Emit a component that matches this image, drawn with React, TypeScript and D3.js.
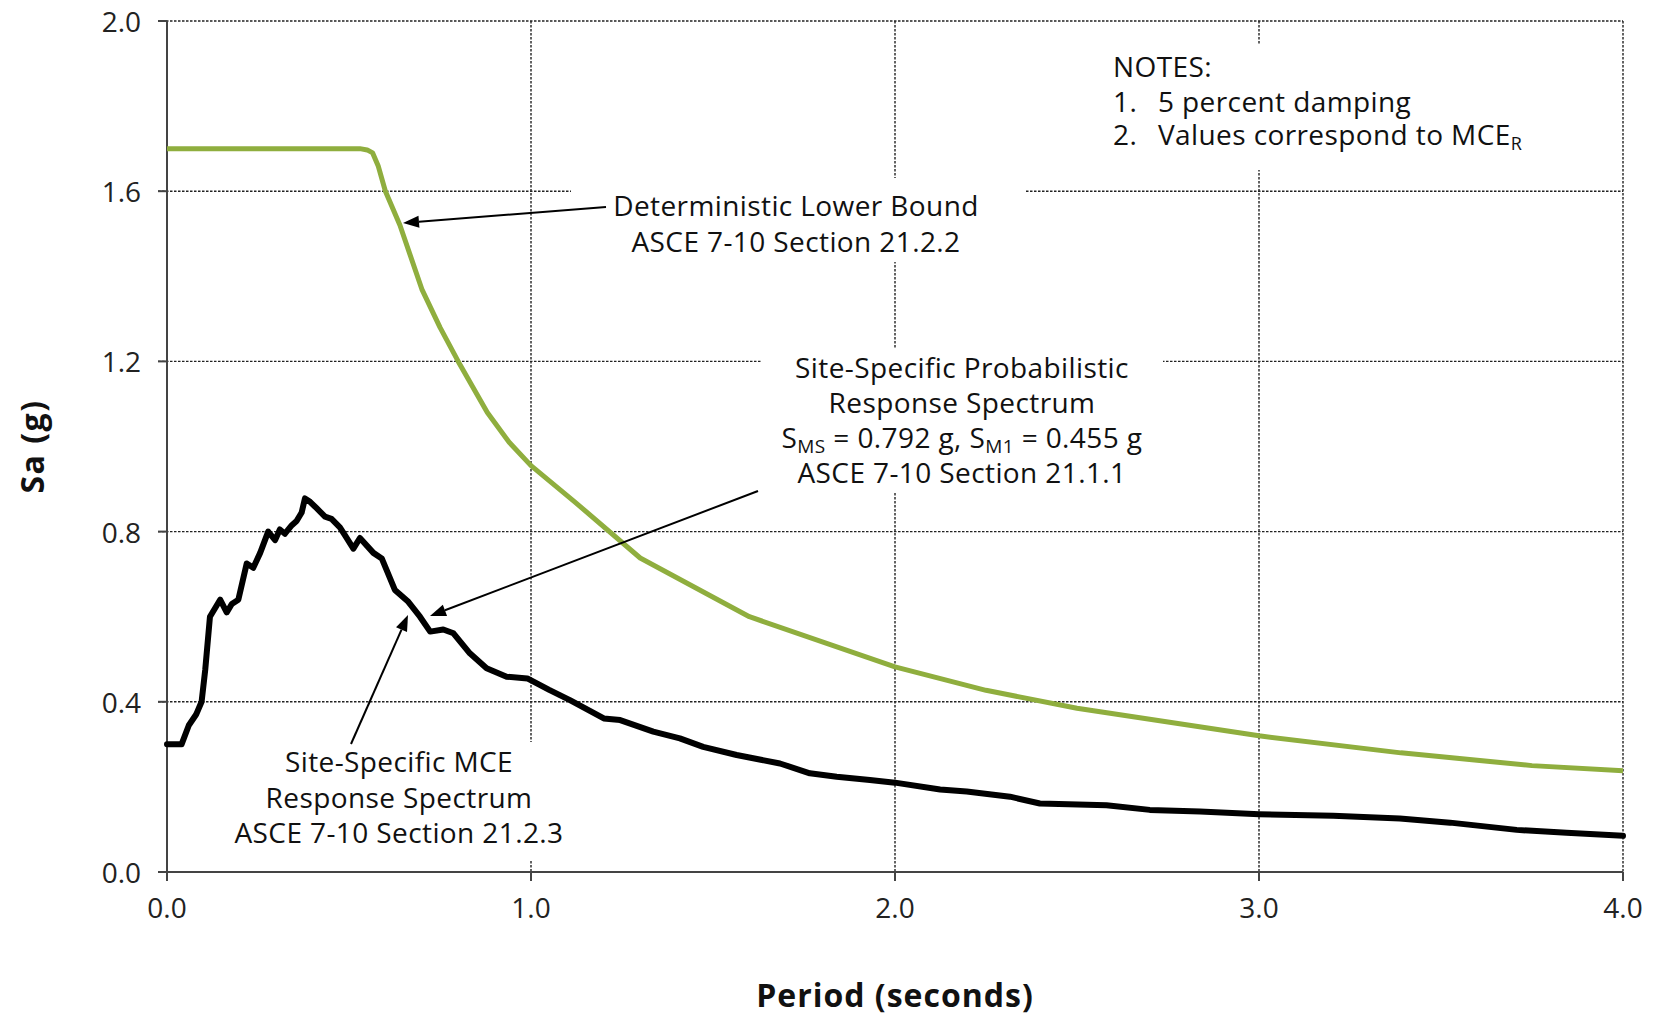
import * as d3 from 'd3';

// Deterministic lower bound (green)
const detPeriod = [0, 0.53, 0.55, 0.565, 0.58, 0.6, 0.64, 0.7, 0.75, 0.8, 0.88, 0.94, 1.0, 1.12, 1.3, 1.6, 2.0, 2.25, 2.5, 3.0, 3.39, 3.75, 4.0];
const detSa = [1.7, 1.7, 1.697, 1.69, 1.66, 1.6, 1.52, 1.37, 1.28, 1.2, 1.08, 1.01, 0.955, 0.87, 0.738, 0.6, 0.482, 0.427, 0.385, 0.32, 0.28, 0.25, 0.238];

// Site-specific MCE response spectrum (black)
const mcePeriod = [0, 0.04, 0.06, 0.08, 0.095, 0.105, 0.118, 0.132, 0.146, 0.164, 0.178, 0.196, 0.219, 0.237, 0.256, 0.278, 0.297, 0.31, 0.324, 0.343, 0.356, 0.37, 0.379, 0.393, 0.411, 0.434, 0.452, 0.475, 0.49, 0.512, 0.53, 0.567, 0.59, 0.626, 0.663, 0.695, 0.723, 0.759, 0.787, 0.832, 0.878, 0.933, 0.99, 1.05, 1.107, 1.2, 1.245, 1.336, 1.409, 1.473, 1.565, 1.684, 1.766, 1.84, 1.931, 2.0, 2.124, 2.197, 2.316, 2.398, 2.581, 2.7, 2.838, 3.0, 3.204, 3.387, 3.525, 3.708, 3.845, 4.0];
const mceSa = [0.3, 0.3, 0.345, 0.37, 0.4, 0.475, 0.6, 0.62, 0.64, 0.61, 0.63, 0.64, 0.725, 0.715, 0.75, 0.8, 0.78, 0.805, 0.795, 0.815, 0.825, 0.845, 0.878, 0.87, 0.855, 0.835, 0.83, 0.81, 0.79, 0.76, 0.785, 0.75, 0.737, 0.663, 0.635, 0.6, 0.565, 0.57, 0.561, 0.514, 0.479, 0.459, 0.455, 0.428, 0.404, 0.361, 0.357, 0.33, 0.314, 0.294, 0.275, 0.255, 0.232, 0.224, 0.216, 0.21, 0.194, 0.189, 0.177, 0.161, 0.157, 0.146, 0.142, 0.136, 0.132, 0.126, 0.116, 0.099, 0.092, 0.085];

const xTicks = [0, 1, 2, 3, 4];
const yTicks = [0, 0.4, 0.8, 1.2, 1.6, 2.0];

const W = 1658;
const H = 1016;
const margin = { top: 21, right: 35, bottom: 144, left: 167 };

const FONT = "'Open Sans', sans-serif";
const GREEN = '#8fae3e';

export default function App() {
  const x = d3.scaleLinear().domain([0, 4]).range([margin.left, W - margin.right]);
  const y = d3.scaleLinear().domain([0, 2]).range([H - margin.bottom, margin.top]);

  const det = detPeriod.map((t, i) => [t, detSa[i]] as [number, number]);
  const mce = mcePeriod.map((t, i) => [t, mceSa[i]] as [number, number]);

  const lineGen = d3.line<[number, number]>().x(d => x(d[0])).y(d => y(d[1]));

  const x0 = x(0), x1 = x(4), y0 = y(0), y1 = y(2);

  // arrow helper: tail -> tip with filled head
  const arrow = (tx: number, ty: number, hx: number, hy: number, key: string) => {
    const ang = Math.atan2(hy - ty, hx - tx);
    const len = 16, wid = 6;
    const bx = hx - len * Math.cos(ang), by = hy - len * Math.sin(ang);
    const px = -Math.sin(ang) * wid, py = Math.cos(ang) * wid;
    return (
      <g key={key}>
        <line x1={tx} y1={ty} x2={bx} y2={by} stroke="#000" strokeWidth={2} />
        <path d={`M${hx},${hy}L${bx + px},${by + py}L${bx - px},${by - py}Z`} fill="#000" />
      </g>
    );
  };

  return (
    <svg width={W} height={H} style={{ position: 'absolute', left: 0, top: 0, background: '#fff' }} fontFamily={FONT}>
      {/* gridlines */}
      <g stroke="#222" strokeWidth={1.4} strokeDasharray="2.5,1.5">
        {yTicks.filter(v => v > 0).map(v => (
          <line key={'gy' + v} x1={x0 - 9} x2={x1} y1={y(v)} y2={y(v)} />
        ))}
        {xTicks.filter(v => v > 0).map(v => (
          <line key={'gx' + v} x1={x(v)} x2={x(v)} y1={y1} y2={y0 + 8} />
        ))}
      </g>

      {/* white boxes behind annotations */}
      <g fill="#fff">
        <rect x={571} y={178} width={455} height={84} />
        <rect x={761} y={348} width={402} height={144} />
        <rect x={215} y={742} width={368} height={118} />
        <rect x={1100} y={44} width={445} height={126} />
      </g>

      {/* axes */}
      <g stroke="#444" strokeWidth={2}>
        <line x1={x0} x2={x0} y1={y1} y2={y0} />
        <line x1={x0 - 9} x2={x1} y1={y0} y2={y0} />
        {yTicks.map(v => <line key={'ty' + v} x1={x0 - 9} x2={x0} y1={y(v)} y2={y(v)} />)}
        {xTicks.map(v => <line key={'tx' + v} x1={x(v)} x2={x(v)} y1={y0} y2={y0 + 9} />)}
      </g>

      {/* tick labels */}
      <g fontSize={28} fill="#222">
        {yTicks.map(v => (
          <text key={'ly' + v} x={x0 - 26} y={y(v)} textAnchor="end" dominantBaseline="central">{v.toFixed(1)}</text>
        ))}
        {xTicks.map(v => (
          <text key={'lx' + v} x={x(v)} y={y0 + 46} textAnchor="middle">{v.toFixed(1)}</text>
        ))}
      </g>

      {/* axis titles */}
      <text x={(x0 + x1) / 2} y={1007} textAnchor="middle" fontSize={32} fontWeight="bold" letterSpacing={1} fill="#111">Period (seconds)</text>
      <text transform={`translate(44,${(y0 + y1) / 2}) rotate(-90)`} textAnchor="middle" fontSize={32} fontWeight="bold" letterSpacing={1.5} fill="#111">Sa (g)</text>

      {/* curves */}
      <path d={lineGen(det) || ''} fill="none" stroke={GREEN} strokeWidth={5} strokeLinejoin="round" />
      <path d={lineGen(mce) || ''} fill="none" stroke="#000" strokeWidth={6} strokeLinejoin="round" strokeLinecap="round" />

      {/* annotations */}
      <g fontSize={28} fill="#111" textAnchor="middle" letterSpacing={0.4}>
        <text x={796} y={216}>Deterministic Lower Bound</text>
        <text x={796} y={252}>ASCE 7-10 Section 21.2.2</text>

        <text x={962} y={378}>Site-Specific Probabilistic</text>
        <text x={962} y={413}>Response Spectrum</text>
        <text x={962} y={448}>
          S<tspan fontSize={19} baselineShift="-5">MS</tspan> = 0.792 g, S<tspan fontSize={19} baselineShift="-5">M1</tspan> = 0.455 g
        </text>
        <text x={962} y={483}>ASCE 7-10 Section 21.1.1</text>

        <text x={399} y={772}>Site-Specific MCE</text>
        <text x={399} y={808}>Response Spectrum</text>
        <text x={399} y={843}>ASCE 7-10 Section 21.2.3</text>
      </g>

      <g fontSize={28} fill="#111" letterSpacing={0.4}>
        <text x={1113} y={77}>NOTES:</text>
        <text x={1113} y={112}>1.</text>
        <text x={1158} y={112}>5 percent damping</text>
        <text x={1113} y={145}>2.</text>
        <text x={1158} y={145}>Values correspond to MCE<tspan fontSize={18} baselineShift="-5">R</tspan></text>
      </g>

      {arrow(606, 207, 403, 223, 'a1')}
      {arrow(758, 491, 430, 616, 'a2')}
      {arrow(351, 744, 408, 615, 'a3')}
    </svg>
  );
}
